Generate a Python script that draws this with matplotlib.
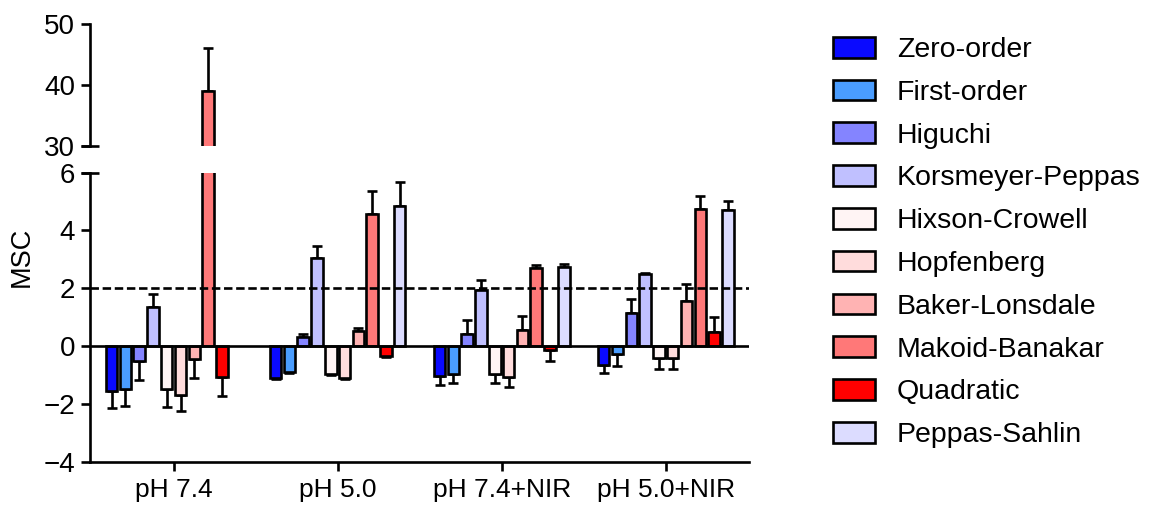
import numpy as np
import matplotlib.pyplot as plt
from matplotlib.patches import Patch

plt.rcParams['font.family'] = ['Liberation Sans', 'DejaVu Sans']

# Conditions on the x axis and kinetic models (one bar each per condition)
conditions = ['pH 7.4', 'pH 5.0', 'pH 7.4+NIR', 'pH 5.0+NIR']
models = ['Zero-order', 'First-order', 'Higuchi', 'Korsmeyer-Peppas',
          'Hixson-Crowell', 'Hopfenberg', 'Baker-Lonsdale', 'Makoid-Banakar',
          'Quadratic', 'Peppas-Sahlin']
colors = ['#0a0aff', '#4a9dff', '#8484ff', '#c0c0ff', '#fff4f4',
          '#ffdcdc', '#ffb3b3', '#ff7878', '#ff0000', '#dcdcff']

# MSC mean values, model order as above
msc_ph74 = [-1.54, -1.49, -0.51, 1.35, -1.50, -1.68, -0.45, 39.0, -1.07, np.nan]
msc_ph50 = [-1.10, -0.90, 0.30, 3.05, -0.95, -1.10, 0.53, 4.55, -0.35, 4.84]
msc_ph74_nir = [-1.05, -0.96, 0.40, 1.95, -0.98, -1.07, 0.55, 2.70, -0.14, 2.72]
msc_ph50_nir = [-0.64, -0.28, 1.14, 2.48, -0.41, -0.41, 1.56, 4.74, 0.49, 4.69]

# standard deviations
sd_ph74 = [0.59, 0.60, 0.65, 0.45, 0.60, 0.58, 0.65, 7.0, 0.65, np.nan]
sd_ph50 = [0.05, 0.04, 0.12, 0.40, 0.05, 0.04, 0.08, 0.80, 0.04, 0.84]
sd_ph74_nir = [0.30, 0.32, 0.50, 0.33, 0.30, 0.33, 0.50, 0.10, 0.39, 0.12]
sd_ph50_nir = [0.28, 0.41, 0.47, 0.03, 0.37, 0.40, 0.60, 0.44, 0.50, 0.31]

threshold = 2

means = np.array([msc_ph74, msc_ph50, msc_ph74_nir, msc_ph50_nir]).T
sds = np.array([sd_ph74, sd_ph50, sd_ph74_nir, sd_ph50_nir]).T

fig = plt.figure(figsize=(11.53, 5.12), dpi=100)
ax_top = fig.add_axes([0.078, 0.7154, 0.572, 0.2376])
ax_low = fig.add_axes([0.078, 0.0982, 0.572, 0.5648])

x = np.arange(len(conditions))
pitch = 0.0841
width = 0.070
lw = 1.9

for ax in (ax_top, ax_low):
    for i, m in enumerate(models):
        xs = x + (i - 4.5) * pitch
        vals = means[i]
        errs = sds[i]
        ax.bar(xs, vals, width, color=colors[i], edgecolor='black',
               linewidth=lw, zorder=3, label=m)
        # one-sided error bars pointing away from zero
        lower = np.where(vals < 0, errs, 0)
        upper = np.where(vals >= 0, errs, 0)
        ax.errorbar(xs, vals, yerr=[lower, upper], fmt='none', ecolor='black',
                    elinewidth=lw, capsize=3.5, capthick=lw, zorder=2)
    ax.set_xlim(-0.51, 3.51)
    for s in ['top', 'right']:
        ax.spines[s].set_visible(False)
    ax.spines['left'].set_linewidth(lw)
    ax.tick_params(axis='y', length=6.5, width=lw, labelsize=20, pad=4)

# upper panel (broken axis)
ax_top.set_ylim(30, 50)
ax_top.set_yticks([30, 40, 50])
ax_top.spines['bottom'].set_visible(False)
ax_top.set_xticks([])
ax_top.plot([0], [30], marker='_', markersize=13, mew=lw, color='black',
            transform=ax_top.get_yaxis_transform(), clip_on=False)

# lower panel
ax_low.set_ylim(-4, 6)
ax_low.set_yticks(np.arange(-4, 7, 2))
ax_low.spines['bottom'].set_linewidth(lw)
ax_low.set_xticks(x)
ax_low.set_xticklabels(conditions)
ax_low.tick_params(axis='x', length=6.5, width=lw, labelsize=19, pad=5)
ax_low.axhline(0, color='black', linewidth=lw, zorder=4)
ax_low.axhline(threshold, color='black', linewidth=lw, linestyle=(0, (3.2, 1.4)),
               zorder=5)
ax_low.plot([0], [6], marker='_', markersize=13, mew=lw, color='black',
            transform=ax_low.get_yaxis_transform(), clip_on=False)

fig.text(0.019, 0.499, 'MSC', rotation=90, fontsize=19.5, ha='center', va='center')

handles = [Patch(facecolor=c, edgecolor='black', linewidth=lw) for c in colors]
fig.legend(handles, models, loc='upper left', bbox_to_anchor=(0.7225, 0.928),
           frameon=False, fontsize=20.5, handlelength=1.47, handleheight=0.74,
           handletextpad=0.77, labelspacing=0.58, borderpad=0, borderaxespad=0)

fig.savefig('out.png', dpi=100)
